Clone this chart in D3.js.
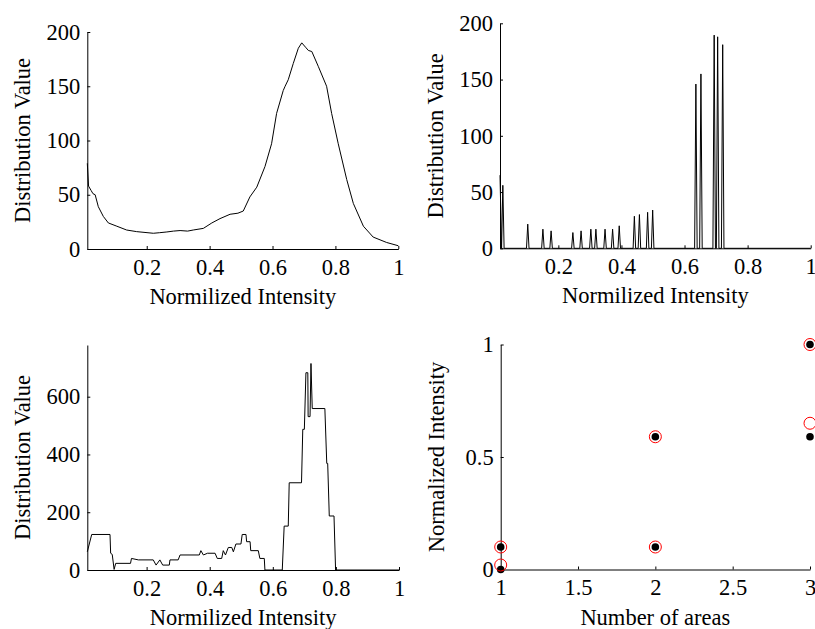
<!DOCTYPE html>
<html>
<head>
<meta charset="utf-8">
<script src="https://cdn.jsdelivr.net/npm/d3@7"></script>
<style>
  body { margin: 0; background: #fff; }
  svg { display: block; font-family: 'Liberation Serif', 'Times New Roman', serif; }
  .axis path, .axis line { stroke: #000; stroke-width: 1; }
  .axis text { font-size: 22.5px; fill: #000; font-family: 'Liberation Serif', 'Times New Roman', serif; }
  .title { font-size: 22.5px; fill: #000; }
</style>
</head>
<body>
<svg id="canvas" width="815" height="629"></svg>
<script>
// top left: smooth distribution
const tlT = [0.011, 0.015, 0.023, 0.029, 0.036, 0.046, 0.062, 0.078, 0.105, 0.136, 0.168, 0.221, 0.24, 0.264, 0.285, 0.306, 0.33, 0.348, 0.38, 0.407, 0.433, 0.465, 0.49, 0.507, 0.528, 0.55, 0.576, 0.597, 0.613, 0.634, 0.64, 0.65, 0.666, 0.682, 0.693, 0.705, 0.714, 0.725, 0.746, 0.772, 0.788, 0.809, 0.836, 0.857, 0.889, 0.92, 0.963, 1.0]
const tlV = [79, 58, 54, 51, 50, 39, 30, 24, 21, 17.5, 16, 14.5, 15, 15.7, 16.5, 17, 16.5, 17.5, 19, 24, 28, 32, 33, 35, 48, 57, 76, 97, 125, 146, 150, 156, 171, 185, 190, 186, 183, 182, 168, 150, 125, 97, 64, 42, 21, 11, 6, 3]

// top right: spiky distribution
const trT = [0.024, 0.103, 0.151, 0.177, 0.246, 0.272, 0.303, 0.319, 0.348, 0.372, 0.393, 0.441, 0.457, 0.483, 0.499, 0.636, 0.652, 0.694, 0.705, 0.721]
const trV = [56, 21.5, 17, 15.5, 14, 15.5, 17, 17, 17, 17, 20, 28.5, 30, 32, 34, 146, 155, 189.5, 188, 181]
const trStart = 65

// bottom left: step distribution
const blT = [0.012, 0.026, 0.084, 0.086, 0.091, 0.097, 0.102, 0.149, 0.152, 0.174, 0.221, 0.23, 0.242, 0.251, 0.272, 0.274, 0.3, 0.306, 0.367, 0.372, 0.38, 0.393, 0.417, 0.424, 0.438, 0.443, 0.45, 0.459, 0.47, 0.475, 0.483, 0.499, 0.503, 0.515, 0.517, 0.528, 0.53, 0.554, 0.559, 0.573, 0.575, 0.63, 0.636, 0.649, 0.652, 0.691, 0.695, 0.7, 0.705, 0.711, 0.712, 0.718, 0.721, 0.725, 0.765, 0.771, 0.774, 0.779, 0.794, 0.799, 1.0]
const blV = [63, 123, 123, 58, 54, 2, 23, 23, 40, 35, 35, 17, 35, 17, 17, 35, 35, 52, 52, 67, 52, 58, 58, 40, 40, 67, 52, 78, 78, 63, 90, 90, 123, 123, 98, 98, 67, 67, 40, 40, 0, 0, 152, 152, 302, 302, 487, 487, 683, 683, 531, 531, 715, 559, 559, 369, 369, 187, 187, 0, 0]

// bottom right: scatter
const areas = [1, 1, 2, 2, 3, 3]
const dotValues = [0, 0.1, 0.1, 0.59, 0.59, 1]
const circleValues = [0.02, 0.1, 0.1, 0.59, 0.65, 1]

const histTicks = [0.2, 0.4, 0.6, 0.8, 1]
const areaTicks = [1, 1.5, 2, 2.5, 3]
const intensityTicks = [0, 0.5, 1]

const canvas = d3.select('#canvas')
canvas.append('rect').attr('width', 815).attr('height', 629).attr('fill', '#fff')

const drawAxes = (g, x, y, xTicks, yTicks, xLabel, yLabel) => {
    const [x0, x1] = x.range()
    const [y0, y1] = y.range()
    g.append('g')
        .attr('class', 'axis')
        .attr('transform', `translate(0,${y0})`)
        .call(d3.axisBottom(x).tickValues(xTicks).tickFormat(d3.format('')).tickSizeInner(-3).tickSizeOuter(0).tickPadding(10))
    g.append('g')
        .attr('class', 'axis')
        .attr('transform', `translate(${x0},0)`)
        .call(d3.axisLeft(y).tickValues(yTicks).tickFormat(d3.format('')).tickSizeInner(-3).tickSizeOuter(0).tickPadding(7))
    g.selectAll('.axis .domain').attr('fill', 'none')
    g.append('text')
        .attr('class', 'title')
        .attr('x', (x0 + x1) / 2)
        .attr('y', y0 + 55)
        .attr('text-anchor', 'middle')
        .text(xLabel)
    g.append('text')
        .attr('class', 'title')
        .attr('transform', `translate(${x0 - 57},${(y0 + y1) / 2}) rotate(-90)`)
        .attr('text-anchor', 'middle')
        .text(yLabel)
}

const drawLine = (g, x, y, pts) => {
    g.append('path')
        .datum(pts)
        .attr('fill', 'none')
        .attr('stroke', '#000')
        .attr('stroke-width', 1)
        .attr('d', d3.line().x(d => x(d[0])).y(d => y(d[1])))
}

// top left
{
    const g = canvas.append('g')
    const x = d3.scaleLinear().domain([0.011, 1]).range([87.3, 398.3])
    const y = d3.scaleLinear().domain([0, 200]).range([249, 32])
    drawLine(g, x, y, tlT.map((t, i) => [t, tlV[i]]))
    drawAxes(g, x, y, histTicks, [0, 50, 100, 150, 200], 'Normilized Intensity', 'Distribution Value')
}

// top right
{
    const g = canvas.append('g')
    const x = d3.scaleLinear().domain([0.015, 1]).range([500, 810.7])
    const y = d3.scaleLinear().domain([0, 200]).range([248.3, 23.3])
    const w = 0.004
    const pts = [[0.015, trStart]]
    trT.forEach((t, i) => {
        pts.push([t - w, 0], [t, trV[i]], [t + w, 0])
    })
    pts.push([1, 0])
    drawLine(g, x, y, pts)
    drawAxes(g, x, y, histTicks, [0, 50, 100, 150, 200], 'Normilized Intensity', 'Distribution Value')
}

// bottom left
{
    const g = canvas.append('g')
    const x = d3.scaleLinear().domain([0.012, 1]).range([87.3, 399])
    const y = d3.scaleLinear().domain([0, 779]).range([570, 345])
    drawLine(g, x, y, blT.map((t, i) => [t, blV[i]]))
    drawAxes(g, x, y, histTicks, [0, 200, 400, 600], 'Normilized Intensity', 'Distribution Value')
}

// bottom right
{
    const g = canvas.append('g')
    const x = d3.scaleLinear().domain([1, 3]).range([500.7, 810])
    const y = d3.scaleLinear().domain([0, 1]).range([569.5, 344.5])
    drawAxes(g, x, y, areaTicks, intensityTicks, 'Number of areas', 'Normalized Intensity')
    g.selectAll('circle.dot')
        .data(areas)
        .enter()
        .append('circle')
        .attr('class', 'dot')
        .attr('cx', (d) => x(d))
        .attr('cy', (d, i) => y(dotValues[i]))
        .attr('r', 3.8)
        .attr('fill', '#000')
    g.selectAll('circle.ring')
        .data(areas)
        .enter()
        .append('circle')
        .attr('class', 'ring')
        .attr('cx', (d) => x(d))
        .attr('cy', (d, i) => y(circleValues[i]))
        .attr('r', 6)
        .attr('fill', 'none')
        .attr('stroke', '#f00')
        .attr('stroke-width', 1)
}
</script>
</body>
</html>
